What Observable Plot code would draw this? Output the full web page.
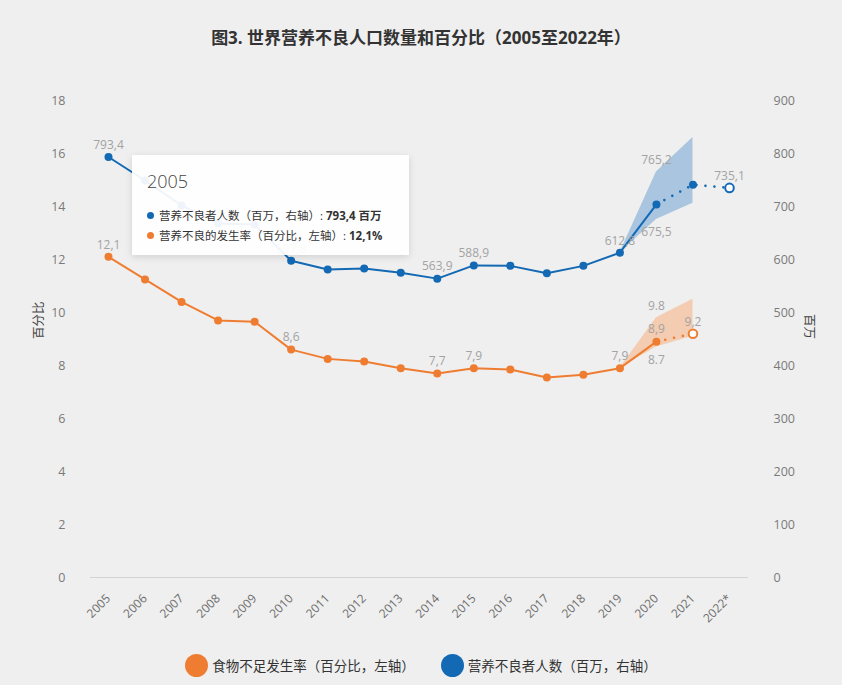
<!DOCTYPE html>
<html>
<head>
<meta charset="utf-8">
<script src="https://cdn.jsdelivr.net/npm/d3@7"></script>
<script src="https://cdn.jsdelivr.net/npm/@observablehq/plot@0.6"></script>
<style>
  html, body { margin: 0; padding: 0; background: #efefef; }
  body { font-family: "Open Sans", "Noto Sans CJK SC", sans-serif; }
  #wrap { position: relative; width: 842px; height: 685px; background: #efefef; overflow: hidden; }
  #title { position: absolute; left: 0; top: 24px; width: 842px; text-align: center; font-size: 17px; font-weight: bold; color: #333; }
  #chart { position: absolute; left: 0; top: 70px; }
  #legend { position: absolute; left: 0; top: 645px; width: 842px; height: 40px; display: flex; justify-content: center; align-items: center; gap: 26px; font-size: 13.5px; color: #333; }
  .li { display: flex; align-items: center; gap: 4px; }
  .sw { width: 23px; height: 23px; border-radius: 50%; display: inline-block; }
  #tip { position: absolute; left: 132px; top: 155px; width: 277px; height: 100px; background: rgba(255,255,255,0.93); box-shadow: 0 2px 7px rgba(0,0,0,0.13); box-sizing: border-box; padding: 14px 0 0 15px; color: #333; }
  #tip .yr { font-size: 18px; font-weight: 300; color: #444; margin-bottom: 12px; }
  #tip .row { font-size: 11.5px; display: flex; align-items: center; height: 20px; white-space: nowrap; }
  #tip .b { width: 7px; height: 7px; border-radius: 50%; margin-right: 5px; display: inline-block; }
</style>
</head>
<body>
<div id="wrap">
  <div id="title">图3. 世界营养不良人口数量和百分比（2005至2022年）</div>
  <div id="chart"></div>
  <div id="tip">
    <div class="yr">2005</div>
    <div class="row"><span class="b" style="background:#1369b3"></span>营养不良者人数（百万，右轴）: <b>&nbsp;793,4 百万</b></div>
    <div class="row"><span class="b" style="background:#ef7d31"></span>营养不良的发生率（百分比，左轴）: <b>&nbsp;12,1%</b></div>
  </div>
  <div id="legend">
    <div class="li"><span class="sw" style="background:#ef7d31"></span>食物不足发生率（百分比，左轴）</div>
    <div class="li"><span class="sw" style="background:#1369b3"></span>营养不良者人数（百万，右轴）</div>
  </div>
</div>
<script>
// ---- data ----
const years = ["2005","2006","2007","2008","2009","2010","2011","2012","2013","2014","2015","2016","2017","2018","2019","2020","2021","2022*"];
// number of undernourished people, millions (right axis)
const undernourished = [793.4, 749, 702, 668, 666, 597.8, 581, 583, 575, 563.9, 588.9, 588, 574, 588, 612.8, 704, 741, 735.1];
// prevalence of undernourishment, percent (left axis) — 2005..2021
const prevalence = [12.1, 11.25, 10.4, 9.7, 9.65, 8.6, 8.25, 8.15, 7.9, 7.7, 7.9, 7.85, 7.55, 7.65, 7.9, 8.9, 9.2];
// uncertainty ranges
const bandYears = ["2019","2020","2021"];
const blueBandLow = [612.8, 675.5, 706];
const blueBandHigh = [612.8, 765.2, 830];
const orangeBandLow = [7.9, 8.7, 9.1];
const orangeBandHigh = [7.9, 9.8, 10.5];
// labelled points
const blueLabelYears = ["2005","2010","2014","2015","2019","2022*"];
const orangeLabelYears = ["2005","2010","2014","2015","2019","2020","2021"];
const leftTicks = [0,2,4,6,8,10,12,14,16,18];
const rightTicks = [0,100,200,300,400,500,600,700,800,900];

// ---- derived tables ----
const K = 50; // right-axis / left-axis ratio (900 / 18)
const BLUE = "#1369b3", ORANGE = "#ef7d31", LAB = "#a3a3a3";
const iy = y => years.indexOf(y);
const blue = years.map((y, i) => ({x: i, v: undernourished[i], y: undernourished[i] / K}));
const orange = prevalence.map((v, i) => ({x: i, v, y: v}));
const comma = v => v.toFixed(1).replace(".", ",");
const blueBand = bandYears.map((y, i) => ({x: iy(y), y1: blueBandLow[i] / K, y2: blueBandHigh[i] / K}));
const orangeBand = bandYears.map((y, i) => ({x: iy(y), y1: orangeBandLow[i], y2: orangeBandHigh[i]}));
const iS = iy("2020");
const blueSolid = blue.slice(0, iS + 1), blueDot = blue.slice(iS);
const orangeSolid = orange.slice(0, iS + 1), orangeDot = orange.slice(iS);
const blueLabels = blueLabelYears.map(y => blue[iy(y)]);
const orangeLabels = orangeLabelYears.map(y => orange[iy(y)]);
const bandTop = [
  {x: iy("2020"), y: blueBandHigh[1] / K, t: comma(blueBandHigh[1])},
  {x: iy("2020"), y: orangeBandHigh[1], t: orangeBandHigh[1].toFixed(1)}
];
const bandBottom = [
  {x: iy("2020"), y: blueBandLow[1] / K, t: comma(blueBandLow[1])},
  {x: iy("2020"), y: orangeBandLow[1], t: orangeBandLow[1].toFixed(1)}
];

const chart = Plot.plot({
  width: 842,
  height: 575,
  marginLeft: 108,
  marginRight: 113,
  marginTop: 30,
  marginBottom: 68,
  style: {background: "transparent", fontFamily: '"Open Sans", "Noto Sans CJK SC", sans-serif', fontSize: "12px", overflow: "visible"},
  x: {type: "linear", domain: [0, years.length - 1]},
  y: {domain: [0, 18]},
  marks: [
    Plot.ruleY([0], {stroke: "#d4d4d4", strokeWidth: 1, insetLeft: -18, insetRight: -19}),
    Plot.axisY({ticks: leftTicks, tickSize: 0, tickPadding: 43, label: null, color: "#7a7a7a", fontSize: 12.5}),
    Plot.axisY({anchor: "right", ticks: rightTicks.map(t => t / K), tickFormat: d => String(Math.round(d * K)), tickSize: 0, tickPadding: 44, label: null, color: "#7a7a7a", fontSize: 12.5}),
    Plot.axisX({ticks: d3.range(years.length), tickFormat: i => years[i], tickRotate: -45, tickSize: 0, tickPadding: 19, label: null, color: "#6e6e6e", fontSize: 12}),
    Plot.text(["百分比"], {frameAnchor: "left", dx: -70, rotate: -90, fill: "#444", fontSize: 12.5}),
    Plot.text(["百万"], {frameAnchor: "right", dx: 79, rotate: 90, fill: "#444", fontSize: 12.5}),
    Plot.areaY(blueBand, {x: "x", y1: "y1", y2: "y2", fill: "#a9c5df"}),
    Plot.areaY(orangeBand, {x: "x", y1: "y1", y2: "y2", fill: "#f3ccb1"}),
    Plot.line(blueSolid, {x: "x", y: "y", stroke: BLUE, strokeWidth: 2}),
    Plot.line(blueDot, {x: "x", y: "y", stroke: BLUE, strokeWidth: 2.6, strokeDasharray: "0 9", strokeLinecap: "round"}),
    Plot.line(orangeSolid, {x: "x", y: "y", stroke: ORANGE, strokeWidth: 2}),
    Plot.line(orangeDot, {x: "x", y: "y", stroke: ORANGE, strokeWidth: 2.6, strokeDasharray: "0 9", strokeLinecap: "round"}),
    Plot.dot(blue.slice(0, -1), {x: "x", y: "y", r: 4, fill: BLUE}),
    Plot.dot(blue.slice(-1), {x: "x", y: "y", r: 4.3, fill: "white", stroke: BLUE, strokeWidth: 2}),
    Plot.dot(orange.slice(0, -1), {x: "x", y: "y", r: 4, fill: ORANGE}),
    Plot.dot(orange.slice(-1), {x: "x", y: "y", r: 4.3, fill: "white", stroke: ORANGE, strokeWidth: 2}),
    Plot.text(blueLabels, {x: "x", y: "y", text: d => comma(d.v), dy: -12, fill: LAB, fontSize: 12}),
    Plot.text(orangeLabels, {x: "x", y: "y", text: d => comma(d.v), dy: -12, fill: LAB, fontSize: 12}),
    Plot.text(bandTop, {x: "x", y: "y", text: "t", dy: -12, fill: LAB, fontSize: 12}),
    Plot.text(bandBottom, {x: "x", y: "y", text: "t", dy: 13, fill: LAB, fontSize: 12})
  ]
});
document.getElementById("chart").appendChild(chart);
</script>
</body>
</html>
